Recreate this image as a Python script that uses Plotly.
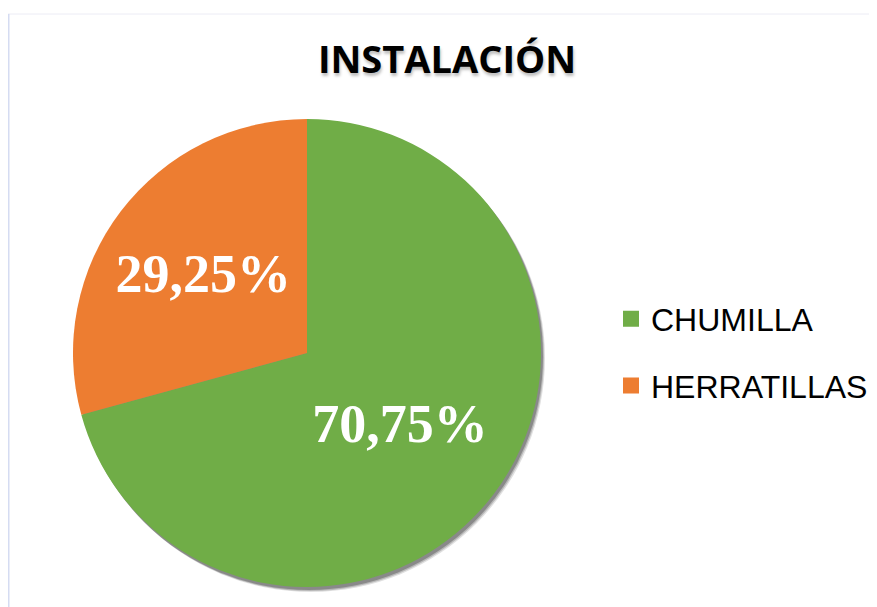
import plotly.graph_objects as go

labels = ["CHUMILLA", "HERRATILLAS"]
values = [70.75, 29.25]
colors = ["#70AD47", "#ED7D31"]
title_text = "INSTALACIÓN"

# figure sits at page offset (8, 8) due to default body margin
W, H = 869, 599
cx, cy, r = 299, 345, 234

fig = go.Figure()
# soft drop shadow beneath the pie
for dx, dy, a in [(4, 5, 0.12), (3, 4, 0.18), (2, 3, 0.25)]:
    fig.add_trace(go.Pie(
        values=[1], labels=["shadow"], marker=dict(colors=[f"rgba(0,0,0,{a})"], line=dict(width=0)),
        domain=dict(x=[(cx - r + dx) / W, (cx + r + dx) / W], y=[1 - (cy + r + dy) / H, 1 - (cy - r + dy) / H]),
        textinfo="none", hoverinfo="skip", showlegend=False, sort=False,
    ))
fig.add_trace(go.Pie(
    labels=labels, values=values, sort=False, direction="clockwise", rotation=0,
    marker=dict(colors=colors, line=dict(width=0)),
    domain=dict(x=[(cx - r) / W, (cx + r) / W], y=[1 - (cy + r) / H, 1 - (cy - r) / H]),
    texttemplate="%{percent:.2%}", textposition="inside", insidetextorientation="horizontal",
    textfont=dict(family="Liberation Serif", size=54, color="white", weight="bold"),
    showlegend=False,
))
# legend entries (square markers) for each category
for i, (lab, col) in enumerate(zip(labels, colors)):
    fig.add_trace(go.Scatter(
        x=[None], y=[None], mode="markers", name=lab, legendgroup=f"g{i}",
        marker=dict(symbol="square", size=17, color=col, line=dict(width=0)),
        showlegend=True, hoverinfo="skip",
    ))

fig.update_layout(
    width=W, height=H, margin=dict(l=0, r=0, t=0, b=0),
    paper_bgcolor="white", plot_bgcolor="rgba(0,0,0,0)",
    separators=",.",
    xaxis=dict(visible=False), yaxis=dict(visible=False),
    title=dict(text=title_text, x=439 / W, xanchor="center", y=1 - 52 / H, yanchor="middle",
               font=dict(family="Open Sans", size=38, color="black", weight="bold",
                         shadow="1px 3px 3px rgba(0,0,0,0.25)")),
    legend=dict(x=603 / W, y=1 - 344.5 / H, xanchor="left", yanchor="middle",
                font=dict(family="Liberation Sans", size=32, color="black"),
                tracegroupgap=22, traceorder="grouped", bgcolor="rgba(0,0,0,0)"),
    shapes=[
        dict(type="line", xref="paper", yref="paper", x0=0, x1=868 / W, y0=1 - 6 / H, y1=1 - 6 / H,
             line=dict(color="#ECECF5", width=1)),
        dict(type="line", xref="paper", yref="paper", x0=0.75 / W, x1=0.75 / W, y0=1 - 6 / H, y1=0,
             line=dict(color="#D5DCF2", width=1.5)),
    ],
)

fig.write_html("out.html")
